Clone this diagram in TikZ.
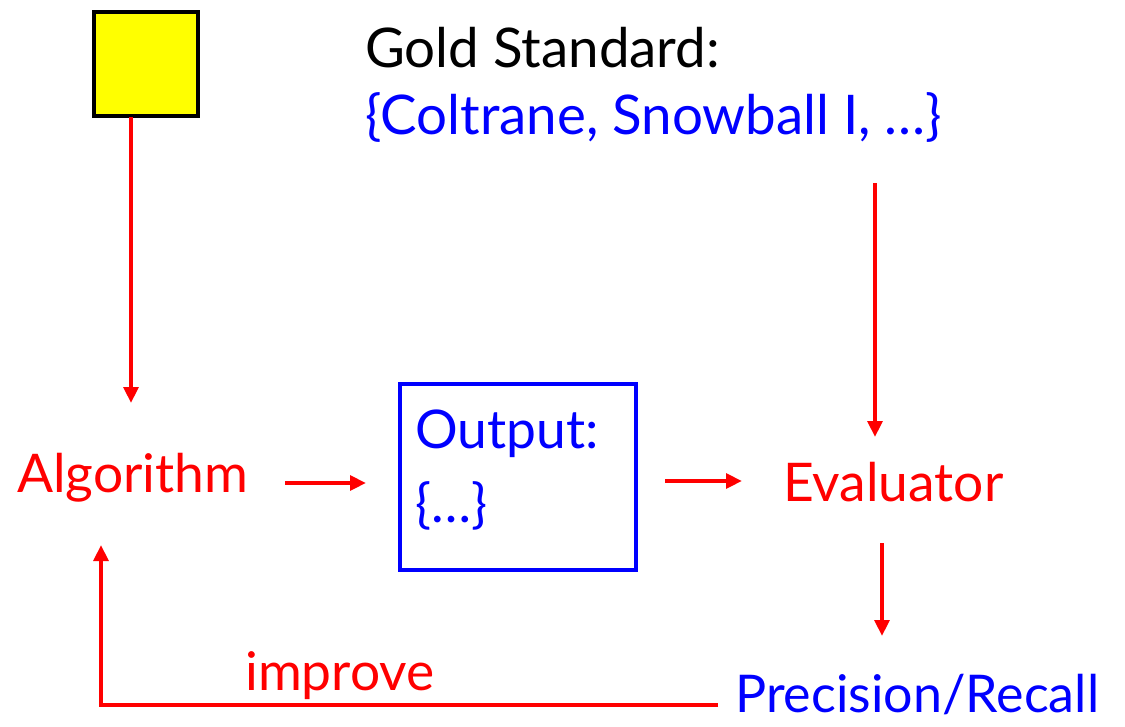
\documentclass[tikz,border=0pt]{standalone}
\usepackage{fontspec}
\setmainfont{Lato}
\usetikzlibrary{arrows.meta}
\definecolor{pred}{RGB}{255,0,0}
\definecolor{pblue}{RGB}{0,0,255}
\definecolor{pyellow}{RGB}{255,255,0}
\begin{document}
\begin{tikzpicture}[x=0.75pt,y=-0.75pt,
  txt/.style={inner sep=0pt,anchor=base west,font=\fontsize{40}{48}\selectfont},
  bigtxt/.style={txt,font=\fontsize{41}{49}\selectfont},
  conn/.style={draw=pred,line width=3.4pt,-{Triangle[length=12pt,width=11pt]}},
  feed/.style={draw=pred,line width=3.4pt}]
\useasboundingbox (0,0) rectangle (1125,726);
\node[draw=black,line width=3.4pt,fill=pyellow,minimum size=78pt,inner sep=0pt] (sq) at (146,64) {};
\node[bigtxt,text=black] (gold) at (365,67) {Gold Standard:};
\node[bigtxt,text=pblue] (goldset) at (365,134) {\{Coltrane, Snowball I, \dots\}};
\node[txt,text=pred] (alg) at (17,492) {Algorithm};
\node[draw=pblue,line width=3.4pt,minimum width=177pt,minimum height=139.5pt,inner sep=0pt] (out) at (518,477) {};
\node[txt,text=pblue] (outlbl) at (415,448) {Output:};
\node[txt,text=pblue] (outset) at (415,522) {\{\dots\}};
\node[txt,text=pred] (eval) at (783,501) {Evaluator};
\node[txt,text=pblue,font=\fontsize{39}{47}\selectfont] (pr) at (735,712) {Precision/Recall};
\node[txt,text=pred] (imp) at (245,690) {improve};
\coordinate (a1) at (131,117);
\coordinate (a1e) at (131,403);
\coordinate (a2) at (285,483);
\coordinate (a2e) at (366,483);
\coordinate (a3) at (665,481);
\coordinate (a3e) at (742,481);
\coordinate (a4) at (875,183);
\coordinate (a4e) at (875,437);
\coordinate (a5) at (882,543);
\coordinate (a5e) at (882,636);
\coordinate (f1) at (718,705);
\coordinate (f2) at (101,705);
\coordinate (f3) at (101,545);
\draw[conn] (a1) -- (a1e);
\draw[conn] (a2) -- (a2e);
\draw[conn] (a3) -- (a3e);
\draw[conn] (a4) -- (a4e);
\draw[conn] (a5) -- (a5e);
\draw[conn] (f1) -- (f2) -- (f3);
\end{tikzpicture}
\end{document}
